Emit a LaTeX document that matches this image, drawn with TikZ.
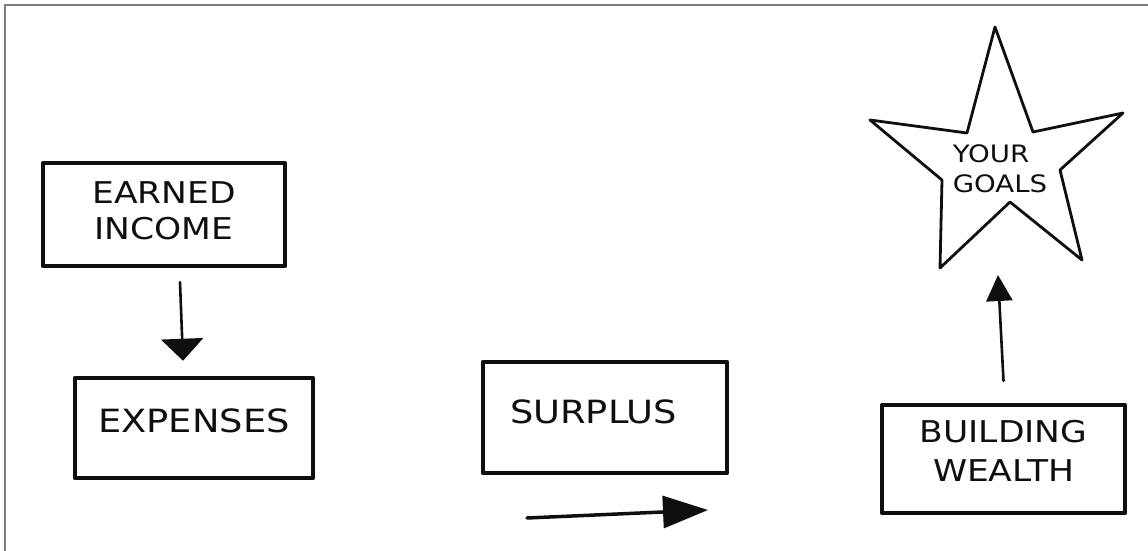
\documentclass[tikz,border=0pt]{standalone}
\usepackage{fontspec}
\setmainfont{DejaVu Sans}[FakeStretch=1.15]
\usetikzlibrary{arrows.meta,positioning}
\definecolor{ink}{RGB}{15,15,15}
\definecolor{rim}{RGB}{125,125,125}
\tikzset{
  >={Triangle[length=22pt,width=42pt]},
  sketchbox/.style={draw=ink,line width=4.5pt,line join=round,line cap=round,
    align=center,inner sep=0pt,text=ink},
  hand/.style 2 args={font=\fontsize{#1}{#2}\selectfont},
  flow/.style={->,draw=ink,line width=2.6pt,line cap=round},
  starline/.style={draw=ink,line width=2.8pt,line join=round},
}

\begin{document}
\begin{tikzpicture}[x=1pt,y=-1pt]
  \useasboundingbox (0,0) rectangle (1148,551);
  \draw[rim,line width=2pt] (1148,5) -- (5,5) -- (5,551);

  % boxes
  \node[sketchbox,hand={30}{36},text depth=7pt,minimum width=242,minimum height=103] (income) at (164,214.5) {EARNED\\INCOME};
  \node[sketchbox,hand={32}{38},text depth=14pt,minimum width=238,minimum height=100] (expenses) at (194,428) {EXPENSES};
  \node[sketchbox,hand={32}{38},text depth=11pt,text width=190,align=left,minimum width=244,minimum height=111] (surplus) at (605,417.5) {SURPLUS};
  \node[sketchbox,hand={30}{39},text depth=16pt,minimum width=243,minimum height=108] (wealth) at (1003.5,459) {BUILDING\\WEALTH};

  % the goal star
  \draw[starline] (995,27) -- (1033,132) -- (1123,113) -- (1060,170) -- (1082,260) -- (1010,202)
    -- (940,268) -- (942,180) -- (870,120) -- (967,133) -- cycle;
  \node[hand={24}{30},align=left,text=ink] (goals) at (1000,169) {YOUR\\GOALS};
  \coordinate (goal tip) at (998,275);

  % arrows
  \draw[flow] ([xshift=16pt,yshift=-14pt]income.south) -- ([xshift=-11pt,yshift=15pt]expenses.north);
  \coordinate (gain start) at (527,518);
  \coordinate (gain end) at (708,510);
  \draw[flow,line width=3.5pt,-{Triangle[length=45pt,width=32pt]}] (gain start) -- (gain end);
  \draw[flow,-{Triangle[length=26pt,width=26pt]}] ([yshift=22pt]wealth.north) -- (goal tip);
\end{tikzpicture}
\end{document}
